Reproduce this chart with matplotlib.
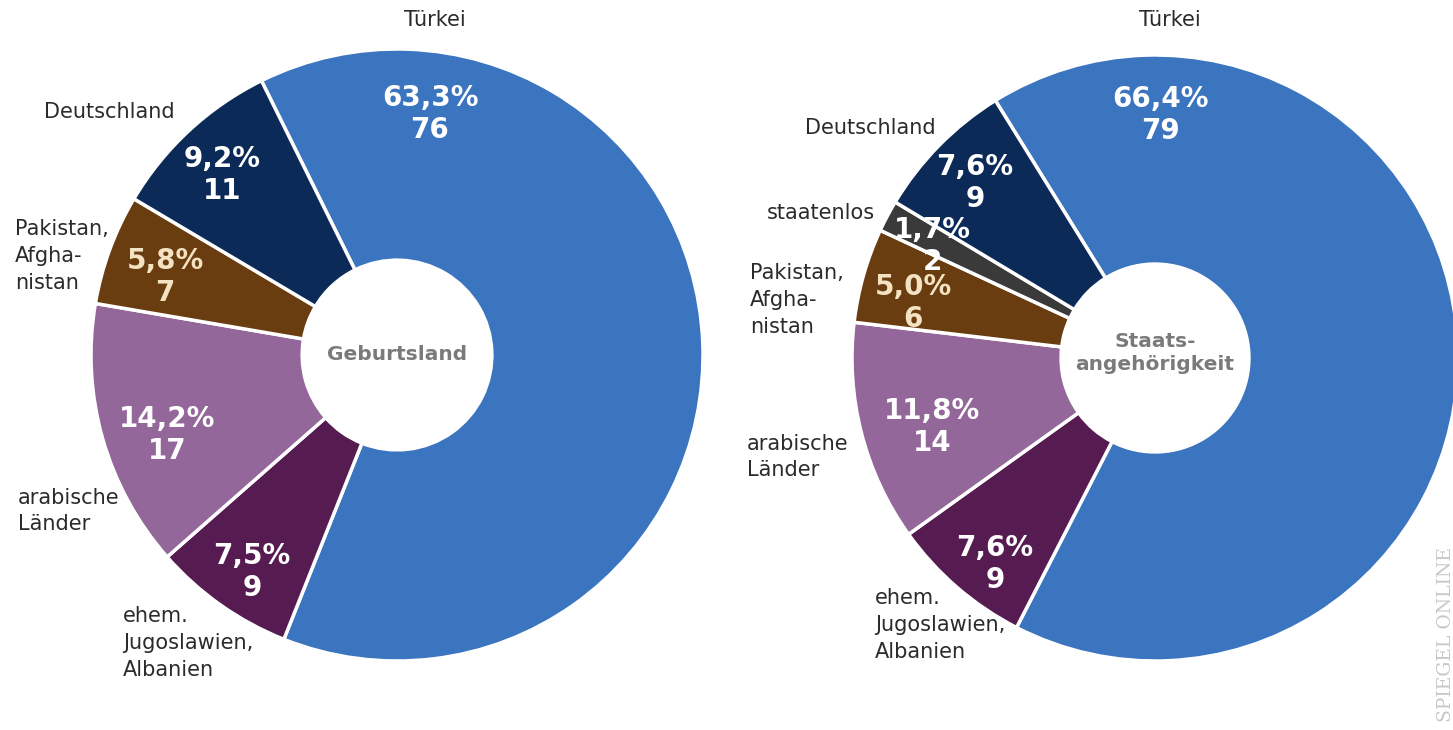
import matplotlib
matplotlib.use("Agg")
import matplotlib.pyplot as plt

# left donut: Geburtsland, clockwise starting at the top
birth_names = ["Türkei", "Jugoslawien", "arabisch", "Pakistan", "Deutschland"]
birth_counts = [76, 9, 17, 7, 11]
birth_pct = ["63,3%", "7,5%", "14,2%", "5,8%", "9,2%"]

# right donut: Staatsangehörigkeit
citizen_names = ["Türkei", "Jugoslawien", "arabisch", "Pakistan", "staatenlos", "Deutschland"]
citizen_counts = [79, 9, 14, 6, 2, 9]
citizen_pct = ["66,4%", "7,6%", "11,8%", "5,0%", "1,7%", "7,6%"]

# outer labels shown next to the rings
label_text = {
    "Türkei": "Türkei",
    "Jugoslawien": "ehem.\nJugoslawien,\nAlbanien",
    "arabisch": "arabische\nLänder",
    "Pakistan": "Pakistan,\nAfgha-\nnistan",
    "staatenlos": "staatenlos",
    "Deutschland": "Deutschland",
}

colors = {
    "Türkei": "#3b74bf",
    "Jugoslawien": "#561c52",
    "arabisch": "#93679a",
    "Pakistan": "#6a3d11",
    "staatenlos": "#3a3a3a",
    "Deutschland": "#0b2a58",
}

W, H = 1453, 730
fig = plt.figure(figsize=(W / 100, H / 100), dpi=100)
ax = fig.add_axes([0, 0, 1, 1])


def px(x, y):
    # picture coords (origin top left) -> axes data coords
    return x, H - y


def donut(names, counts, center, radius, start):
    ax.pie(counts, colors=[colors[n] for n in names], startangle=start,
           counterclock=False, center=center, radius=radius,
           wedgeprops=dict(width=radius * 0.69, edgecolor="white", linewidth=2.5))


donut(birth_names, birth_counts, px(397, 355), 306, 116.3)
donut(citizen_names, citizen_counts, px(1155, 358), 303, 121.8)

# value labels inside the slices
birth_val_pos = [(430, 114), (252, 572), (167, 435), (165, 277), (222, 175)]
citizen_val_pos = [(1160, 115), (995, 564), (932, 427), (913, 303), (932, 246), (975, 183)]

# category labels around the rings: (x, y, ha)
birth_lab_pos = [(435, 20, "center"), (123, 643, "left"), (18, 511, "left"),
                 (15, 256, "left"), (44, 112, "left")]
citizen_lab_pos = [(1170, 20, "center"), (875, 625, "left"), (747, 457, "left"),
                   (750, 300, "left"), (767, 213, "left"), (805, 128, "left")]


def annotate(names, counts, pct, val_pos, lab_pos):
    for n, c, p, (vx, vy), (lx, ly, ha) in zip(names, counts, pct, val_pos, lab_pos):
        tc = "#f3e3c3" if n == "Pakistan" else "white"
        ax.text(*px(vx, vy), f"{p}\n{c}", ha="center", va="center", color=tc,
                fontsize=20, fontweight="bold", linespacing=1.18)
        ax.text(*px(lx, ly), label_text[n], ha=ha, va="center", color="#2b2b2b",
                fontsize=15, linespacing=1.42, multialignment="left")


annotate(birth_names, birth_counts, birth_pct, birth_val_pos, birth_lab_pos)
annotate(citizen_names, citizen_counts, citizen_pct, citizen_val_pos, citizen_lab_pos)

# centre captions
ax.text(*px(397, 355), "Geburtsland", ha="center", va="center", color="#7a7a7a",
        fontsize=14.5, fontweight="bold")
ax.text(*px(1155, 353), "Staats-\nangehörigkeit", ha="center", va="center",
        color="#7a7a7a", fontsize=14.5, fontweight="bold", linespacing=1.3)

# watermark
ax.text(*px(1446, 722), "SPIEGEL ONLINE", rotation=90, ha="center", va="bottom",
        color="#c8c8c8", fontsize=13.5, family="DejaVu Serif")

ax.set_xlim(0, W)
ax.set_ylim(0, H)
ax.set_aspect("equal")
ax.axis("off")

fig.savefig("out.png", dpi=100, facecolor="white")
